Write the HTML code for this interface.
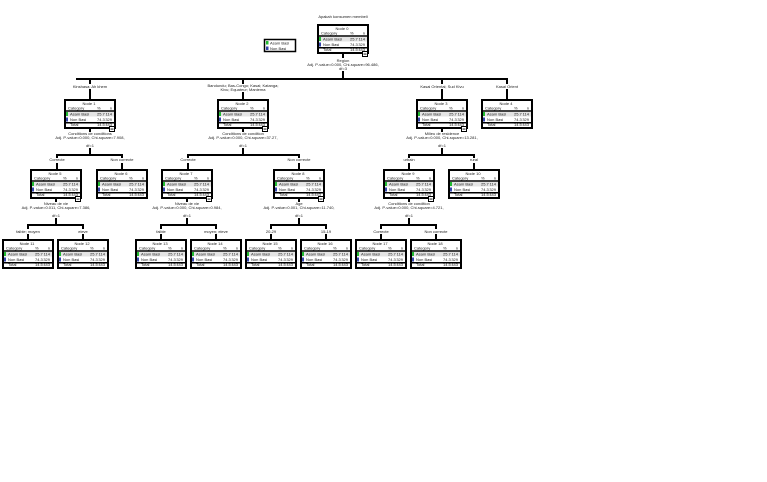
<!DOCTYPE html>
<html><head><meta charset="utf-8"><style>
html,body{margin:0;padding:0;background:#fff;}
svg{display:block;font-family:"Liberation Sans",sans-serif;}
text{font-size:4px;fill:#222;}
.c{text-anchor:middle}
.e{text-anchor:end}
</style></head><body>
<svg width="767" height="482" viewBox="0 0 767 482" xmlns="http://www.w3.org/2000/svg">
<defs>
<g id="nd">
<rect x="1" y="1" width="50" height="28" fill="#fff" stroke="#000" stroke-width="2"/>
<text x="4" y="10.5">Category</text><text x="33" y="10.5">%</text><text x="48" y="10.5" class="e">n</text>
<line x1="2" y1="12" x2="50" y2="12" stroke="#000" stroke-width="1.5"/>
<rect x="2" y="13" width="48" height="4.5" fill="#e4e4e4"/>
<rect x="2" y="13" width="2" height="4" fill="#22bb33"/>
<text x="6" y="16.6">Asam Basi</text><text x="33" y="16.6">25.7</text><text x="48" y="16.6" class="e">114</text>
<rect x="2" y="18.5" width="2" height="4" fill="#3344aa"/>
<text x="6" y="22">Non Basi</text><text x="33" y="22">74.3</text><text x="48" y="22" class="e">329</text>
<line x1="2" y1="23.7" x2="50" y2="23.7" stroke="#000" stroke-width="1.5"/>
<text x="6" y="27.2">Total</text><text x="33" y="27.2">14.5</text><text x="48" y="27.2" class="e">443</text>
</g>
<g id="mn"><rect x="0" y="0" width="6" height="6" fill="#000"/><rect x="1" y="1" width="4" height="4" fill="#fff"/><rect x="1.5" y="2.6" width="3" height="0.9" fill="#000"/></g>
</defs>
<g stroke="#000" stroke-width="2" fill="none">
<line x1="343" y1="53" x2="343" y2="58"/><line x1="343" y1="71" x2="343" y2="79"/>
<line x1="76" y1="79" x2="508" y2="79"/>
<line x1="90" y1="79" x2="90" y2="84"/><line x1="90" y1="89" x2="90" y2="100"/>
<line x1="243" y1="79" x2="243" y2="84"/><line x1="243" y1="92" x2="243" y2="100"/>
<line x1="442" y1="79" x2="442" y2="84"/><line x1="442" y1="89" x2="442" y2="100"/>
<line x1="507" y1="79" x2="507" y2="84"/><line x1="507" y1="89" x2="507" y2="100"/>
<line x1="90" y1="128" x2="90" y2="132"/><line x1="90" y1="148" x2="90" y2="155"/>
<line x1="56" y1="155" x2="123" y2="155"/>
<line x1="57" y1="155" x2="57" y2="158"/><line x1="57" y1="163" x2="57" y2="170"/>
<line x1="122" y1="155" x2="122" y2="158"/><line x1="122" y1="163" x2="122" y2="170"/>
<line x1="243" y1="128" x2="243" y2="132"/><line x1="243" y1="148" x2="243" y2="155"/>
<line x1="187" y1="155" x2="300" y2="155"/>
<line x1="188" y1="155" x2="188" y2="158"/><line x1="188" y1="163" x2="188" y2="170"/>
<line x1="299" y1="155" x2="299" y2="158"/><line x1="299" y1="163" x2="299" y2="170"/>
<line x1="442" y1="128" x2="442" y2="132"/><line x1="442" y1="148" x2="442" y2="155"/>
<line x1="408" y1="155" x2="475" y2="155"/>
<line x1="409" y1="155" x2="409" y2="158"/><line x1="409" y1="163" x2="409" y2="170"/>
<line x1="474" y1="155" x2="474" y2="158"/><line x1="474" y1="163" x2="474" y2="170"/>
<line x1="56" y1="198" x2="56" y2="202"/><line x1="56" y1="218" x2="56" y2="225"/>
<line x1="27" y1="225" x2="84" y2="225"/>
<line x1="28" y1="225" x2="28" y2="229"/><line x1="28" y1="234" x2="28" y2="240"/>
<line x1="83" y1="225" x2="83" y2="229"/><line x1="83" y1="234" x2="83" y2="240"/>
<line x1="187" y1="198" x2="187" y2="202"/><line x1="187" y1="218" x2="187" y2="225"/>
<line x1="160" y1="225" x2="217" y2="225"/>
<line x1="161" y1="225" x2="161" y2="229"/><line x1="161" y1="234" x2="161" y2="240"/>
<line x1="216" y1="225" x2="216" y2="229"/><line x1="216" y1="234" x2="216" y2="240"/>
<line x1="299" y1="198" x2="299" y2="202"/><line x1="299" y1="218" x2="299" y2="225"/>
<line x1="270" y1="225" x2="327" y2="225"/>
<line x1="271" y1="225" x2="271" y2="229"/><line x1="271" y1="234" x2="271" y2="240"/>
<line x1="326" y1="225" x2="326" y2="229"/><line x1="326" y1="234" x2="326" y2="240"/>
<line x1="409" y1="198" x2="409" y2="202"/><line x1="409" y1="218" x2="409" y2="225"/>
<line x1="380" y1="225" x2="437" y2="225"/>
<line x1="381" y1="225" x2="381" y2="229"/><line x1="381" y1="234" x2="381" y2="240"/>
<line x1="436" y1="225" x2="436" y2="229"/><line x1="436" y1="234" x2="436" y2="240"/>
</g>

<text x="343" y="18" class="c">Apakah konsumen membeli</text>
<rect x="264.5" y="39.5" width="31" height="12" fill="#fff" stroke="#000" stroke-width="1.5"/>
<rect x="266" y="41" width="2.5" height="3.5" fill="#22bb33"/><text x="270" y="44.5">Asam Basi</text>
<rect x="266" y="46.5" width="2.5" height="3.5" fill="#3344aa"/><text x="270" y="50">Non Basi</text>

<g transform="translate(317,24)"><use href="#nd"/><text x="25" y="6" class="c">Node 0</text><use href="#mn" x="45" y="27"/></g>
<text x="343" y="62" class="c">Region</text>
<text x="343" y="66" class="c">Adj. P-value=0.000, Chi-square=96.486,</text>
<text x="343" y="70" class="c">df=3</text>

<text x="90" y="88" class="c">Kinshasa; Ah khem</text>
<text x="243" y="87" class="c">Bandundu; Bas-Congo; Kasai; Katanga;</text>
<text x="243" y="91" class="c">Kivu; Equateur; Maniema</text>
<text x="442" y="88" class="c">Kasai Oriental; Sud Kivu</text>
<text x="507" y="88" class="c">Kasai Orient</text>

<g transform="translate(64,99)"><use href="#nd"/><text x="25" y="6" class="c">Node 1</text><use href="#mn" x="45" y="27"/></g>
<g transform="translate(217,99)"><use href="#nd"/><text x="25" y="6" class="c">Node 2</text><use href="#mn" x="45" y="27"/></g>
<g transform="translate(416,99)"><use href="#nd"/><text x="25" y="6" class="c">Node 3</text><use href="#mn" x="45" y="27"/></g>
<g transform="translate(481,99)"><use href="#nd"/><text x="25" y="6" class="c">Node 4</text></g>

<text x="90" y="135" class="c">Conditions de conditions</text>
<text x="90" y="139" class="c">Adj. P-value=0.000, Chi-square=7.908,</text>
<text x="90" y="147" class="c">df=1</text>
<text x="243" y="135" class="c">Conditions de condition</text>
<text x="243" y="139" class="c">Adj. P-value=0.000, Chi-square=37.27,</text>
<text x="243" y="147" class="c">df=1</text>
<text x="442" y="135" class="c">Milieu de residence</text>
<text x="442" y="139" class="c">Adj. P-value=0.000, Chi-square=13.281,</text>
<text x="442" y="147" class="c">df=1</text>

<text x="57" y="161" class="c">Correcte</text>
<text x="122" y="161" class="c">Non correcte</text>
<text x="188" y="161" class="c">Correcte</text>
<text x="299" y="161" class="c">Non correcte</text>
<text x="409" y="161" class="c">urbain</text>
<text x="474" y="161" class="c">rural</text>

<g transform="translate(30,169)"><use href="#nd"/><text x="25" y="6" class="c">Node 5</text><use href="#mn" x="45" y="27"/></g>
<g transform="translate(96,169)"><use href="#nd"/><text x="25" y="6" class="c">Node 6</text></g>
<g transform="translate(161,169)"><use href="#nd"/><text x="25" y="6" class="c">Node 7</text><use href="#mn" x="45" y="27"/></g>
<g transform="translate(273,169)"><use href="#nd"/><text x="25" y="6" class="c">Node 8</text><use href="#mn" x="45" y="27"/></g>
<g transform="translate(383,169)"><use href="#nd"/><text x="25" y="6" class="c">Node 9</text><use href="#mn" x="45" y="27"/></g>
<g transform="translate(448,169)"><use href="#nd"/><text x="25" y="6" class="c">Node 10</text></g>

<text x="56" y="205" class="c">Niveau de vie</text>
<text x="56" y="209" class="c">Adj. P-value=0.011, Chi-square=7.386,</text>
<text x="56" y="217" class="c">df=1</text>
<text x="187" y="205" class="c">Niveau de vie</text>
<text x="187" y="209" class="c">Adj. P-value=0.000, Chi-square=0.984,</text>
<text x="187" y="217" class="c">df=1</text>
<text x="299" y="205" class="c">Age</text>
<text x="299" y="209" class="c">Adj. P-value=0.001, Chi-square=11.740,</text>
<text x="299" y="217" class="c">df=1</text>
<text x="409" y="205" class="c">Conditions de condition</text>
<text x="409" y="209" class="c">Adj. P-value=0.000, Chi-square=4.721,</text>
<text x="409" y="217" class="c">df=1</text>

<text x="28" y="233" class="c">faible; moyen</text>
<text x="83" y="233" class="c">eleve</text>
<text x="161" y="233" class="c">faible</text>
<text x="216" y="233" class="c">moyen; eleve</text>
<text x="271" y="233" class="c">20-29</text>
<text x="326" y="233" class="c">15-19</text>
<text x="381" y="233" class="c">Correcte</text>
<text x="436" y="233" class="c">Non correcte</text>

<g transform="translate(2,239)"><use href="#nd"/><text x="25" y="6" class="c">Node 11</text></g>
<g transform="translate(57,239)"><use href="#nd"/><text x="25" y="6" class="c">Node 12</text></g>
<g transform="translate(135,239)"><use href="#nd"/><text x="25" y="6" class="c">Node 13</text></g>
<g transform="translate(190,239)"><use href="#nd"/><text x="25" y="6" class="c">Node 14</text></g>
<g transform="translate(245,239)"><use href="#nd"/><text x="25" y="6" class="c">Node 15</text></g>
<g transform="translate(300,239)"><use href="#nd"/><text x="25" y="6" class="c">Node 16</text></g>
<g transform="translate(355,239)"><use href="#nd"/><text x="25" y="6" class="c">Node 17</text></g>
<g transform="translate(410,239)"><use href="#nd"/><text x="25" y="6" class="c">Node 18</text></g>
</svg>
</body></html>
